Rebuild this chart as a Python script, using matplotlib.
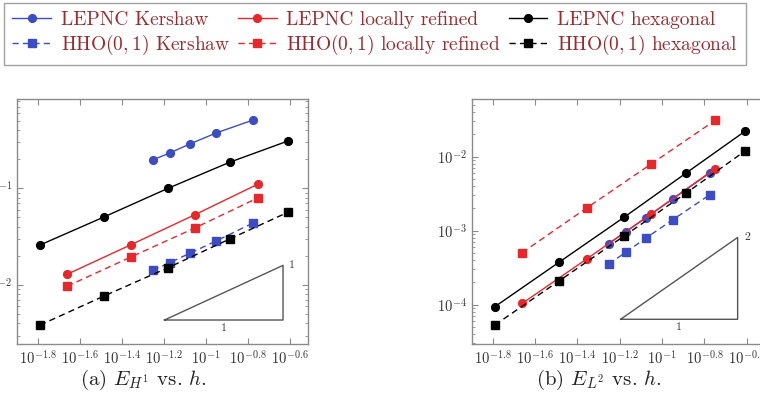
import numpy as np
import matplotlib
matplotlib.use("Agg")
import matplotlib.pyplot as plt
from matplotlib.ticker import FixedLocator, NullLocator, FuncFormatter, LogLocator

plt.rcParams['font.family'] = 'cmr10'
plt.rcParams['mathtext.fontset'] = 'cm'
plt.rcParams['axes.unicode_minus'] = False
plt.rcParams['axes.formatter.use_mathtext'] = True

# mesh sizes h
h_kershaw = [0.0558, 0.0673, 0.0839, 0.112, 0.168]
h_refined = [0.0218, 0.0440, 0.0887, 0.178]
h_hexagonal = [0.0162, 0.0327, 0.0661, 0.130, 0.246]

# energy-norm errors E_H1
h1_lepnc_kershaw = [0.196, 0.232, 0.287, 0.373, 0.508]
h1_lepnc_refined = [0.0129, 0.0261, 0.0533, 0.111]
h1_lepnc_hexagonal = [0.0259, 0.0505, 0.100, 0.186, 0.308]
h1_hho_kershaw = [0.0142, 0.0170, 0.0213, 0.0285, 0.0438]
h1_hho_refined = [0.00971, 0.0195, 0.0389, 0.0800]
h1_hho_hexagonal = [0.00385, 0.00769, 0.0151, 0.0299, 0.0565]

# L2 errors E_L2
l2_lepnc_kershaw = [6.67e-4, 9.68e-4, 1.50e-3, 2.68e-3, 6.03e-3]
l2_lepnc_refined = [1.04e-4, 4.15e-4, 1.68e-3, 6.89e-3]
l2_lepnc_hexagonal = [9.40e-5, 3.78e-4, 1.52e-3, 6.03e-3, 2.20e-2]
l2_hho_kershaw = [3.52e-4, 5.11e-4, 7.96e-4, 1.40e-3, 3.06e-3]
l2_hho_refined = [5.05e-4, 2.03e-3, 7.96e-3, 3.10e-2]
l2_hho_hexagonal = [5.32e-5, 2.11e-4, 8.47e-4, 3.23e-3, 1.19e-2]

xtick_exps = [-1.8, -1.6, -1.4, -1.2, -1.0, -0.8, -0.6]
xtick_labels = ['$10^{-1.8}$', '$10^{-1.6}$', '$10^{-1.4}$', '$10^{-1.2}$',
                '$10^{-1}$', '$10^{-0.8}$', '$10^{-0.6}$']

# slope triangles: (log10 x start, log10 y start, run in decades, slope)
tri_h1 = (-1.197, -2.362, 0.565, 1)
tri_l2 = (-1.196, -4.197, 0.553, 2)

blue = '#3c4cc4'
red = '#e8272b'
black = '#000000'
frame_col = '#8a8a8a'
text_col = '#9a2b2e'

fig = plt.figure(figsize=(7.6, 3.93), dpi=100)
W, H = 760, 393


def px_axes(x0, y0, x1, y1):
    return fig.add_axes([x0 / W, 1 - y1 / H, (x1 - x0) / W, (y1 - y0) / H])


ax1 = px_axes(17, 99, 308, 344)
ax2 = px_axes(471.7, 99, 770, 344)


def draw(ax, data, tri, xlim, ylim):
    handles = []
    for h, err, col, ls, mk, lab in data:
        ln, = ax.plot(h, err, color=col, ls=ls, lw=1.0, marker=mk,
                      ms=5.6 if mk == 'o' else 5.2, mec=col, mfc=col,
                      dashes=(4.5, 3) if ls == '--' else (None, None),
                      label=lab)
        handles.append(ln)
    ax.set_xscale('log')
    ax.set_yscale('log')
    ax.set_xlim(10 ** xlim[0], 10 ** xlim[1])
    ax.set_ylim(10 ** ylim[0], 10 ** ylim[1])
    ax.xaxis.set_major_locator(FixedLocator([10 ** e for e in xtick_exps]))
    ax.xaxis.set_minor_locator(NullLocator())
    ax.xaxis.set_major_formatter(FuncFormatter(
        lambda v, p: xtick_labels[int(np.argmin([abs(np.log10(v) - e) for e in xtick_exps]))]))
    ax.yaxis.set_major_locator(LogLocator(base=10))
    ax.yaxis.set_minor_locator(LogLocator(base=10, subs=np.arange(2, 10)))
    ax.tick_params(which='both', direction='in', top=True, right=True,
                   color=frame_col, labelsize=10.5, labelcolor='#333333', pad=3.5)
    ax.tick_params(which='major', length=4, width=0.8)
    ax.tick_params(which='minor', length=2, width=0.6)
    for s in ax.spines.values():
        s.set_color(frame_col)
        s.set_linewidth(1.0)

    # slope triangle
    lx, ly, run, slope = tri
    xs = [10 ** lx, 10 ** (lx + run), 10 ** (lx + run), 10 ** lx]
    ys = [10 ** ly, 10 ** ly, 10 ** (ly + slope * run), 10 ** ly]
    ax.plot(xs, ys, color='#555555', lw=1.0)
    ax.text(10 ** (lx + run / 2), 10 ** (ly - 0.085 * slope * (1 if slope == 1 else 0.6)),
            '1', ha='center', va='center', fontsize=8.5, color='#333333')
    ax.text(10 ** (lx + run + 0.03), 10 ** (ly + slope * run), str(slope),
            ha='left', va='center', fontsize=8.5, color='#333333')
    return handles


handles = draw(ax1, [
    (h_kershaw, h1_lepnc_kershaw, blue, '-', 'o', 'LEPNC Kershaw'),
    (h_kershaw, h1_hho_kershaw, blue, '--', 's', 'HHO$(0,1)$ Kershaw'),
    (h_refined, h1_lepnc_refined, red, '-', 'o', 'LEPNC locally refined'),
    (h_refined, h1_hho_refined, red, '--', 's', 'HHO$(0,1)$ locally refined'),
    (h_hexagonal, h1_lepnc_hexagonal, black, '-', 'o', 'LEPNC hexagonal'),
    (h_hexagonal, h1_hho_hexagonal, black, '--', 's', 'HHO$(0,1)$ hexagonal'),
], tri_h1, (-1.90, -0.513), (-2.610, -0.077))

draw(ax2, [
    (h_kershaw, l2_lepnc_kershaw, blue, '-', 'o', 'LEPNC Kershaw'),
    (h_kershaw, l2_hho_kershaw, blue, '--', 's', 'HHO$(0,1)$ Kershaw'),
    (h_refined, l2_lepnc_refined, red, '-', 'o', 'LEPNC locally refined'),
    (h_refined, l2_hho_refined, red, '--', 's', 'HHO$(0,1)$ locally refined'),
    (h_hexagonal, l2_lepnc_hexagonal, black, '-', 'o', 'LEPNC hexagonal'),
    (h_hexagonal, l2_hho_hexagonal, black, '--', 's', 'HHO$(0,1)$ hexagonal'),
], tri_l2, (-1.90, -0.49), (-4.531, -1.220))

leg = fig.legend(handles=handles, ncol=3, loc='upper left',
                 bbox_to_anchor=(4 / W, 1 - 3 / H), fontsize=14,
                 frameon=True, fancybox=False, edgecolor=frame_col,
                 handlelength=2.0, handletextpad=0.5, columnspacing=0.4,
                 labelspacing=0.2, borderpad=0.42, borderaxespad=0)
leg.get_frame().set_linewidth(1.0)
for t in leg.get_texts():
    t.set_color(text_col)

fig.text(143 / W, 1 - 380 / H, '(a) $E_{H^1}$ vs. $h$.', ha='center',
         va='center', fontsize=15, color='#222222')
fig.text(599 / W, 1 - 380 / H, '(b) $E_{L^2}$ vs. $h$.', ha='center',
         va='center', fontsize=15, color='#222222')

fig.savefig('out.png', dpi=100)
